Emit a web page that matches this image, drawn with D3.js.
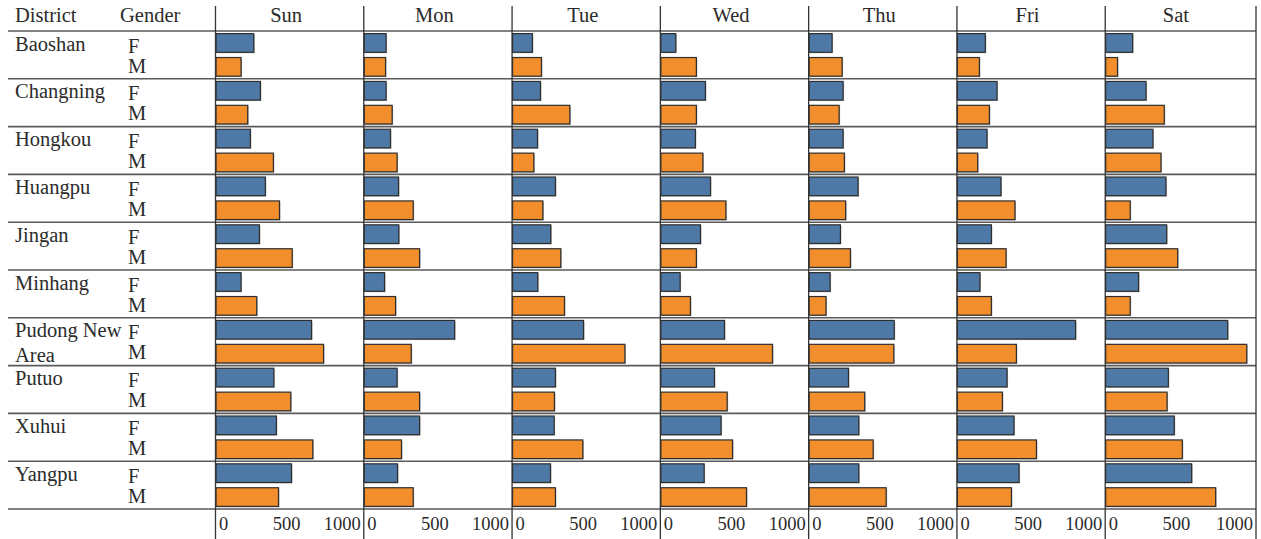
<!DOCTYPE html>
<html>
<head>
<meta charset="utf-8">
<script src="https://cdn.jsdelivr.net/npm/d3@7"></script>
<style>
  html, body { margin: 0; padding: 0; background: #fff; }
  svg { display: block; }
  text { font-family: "Liberation Serif", "DejaVu Serif", serif; fill: #2b2b2b; }
</style>
</head>
<body>
<svg id="chart" width="1261" height="539"></svg>
<script>
// Day-of-week columns, district rows, gender sub-rows
const days = ["Sun", "Mon", "Tue", "Wed", "Thu", "Fri", "Sat"];
const districts = ["Baoshan", "Changning", "Hongkou", "Huangpu", "Jingan",
                   "Minhang", "Pudong New Area", "Putuo", "Xuhui", "Yangpu"];
const genders = ["F", "M"];
const tickValues = [0, 500, 1000];

// Counts per day, one value per district (same order as `districts`)
const sunF = [271, 318, 247, 353, 311, 181, 680, 413, 431, 538];
const sunM = [181, 228, 410, 453, 543, 292, 765, 533, 689, 446];
const monF = [158, 158, 189, 246, 248, 147, 643, 236, 395, 239];
const monM = [154, 201, 236, 350, 395, 225, 336, 395, 267, 350];
const tueF = [144, 201, 180, 307, 274, 182, 506, 307, 298, 272];
const tueM = [208, 409, 154, 218, 345, 371, 799, 300, 501, 307];
const wedF = [109, 319, 248, 355, 284, 140, 454, 383, 430, 310];
const wedM = [255, 255, 301, 464, 255, 213, 794, 473, 511, 610];
const thuF = [166, 244, 244, 350, 225, 152, 606, 282, 355, 355];
const thuM = [237, 216, 253, 262, 296, 123, 603, 397, 457, 549];
const friF = [201, 284, 213, 312, 244, 163, 840, 355, 404, 440];
const friM = [159, 230, 147, 411, 348, 244, 421, 322, 563, 386];
const satF = [194, 289, 338, 430, 435, 236, 867, 447, 489, 612];
const satM = [87, 418, 395, 177, 513, 177, 1002, 438, 546, 782];

const femaleByDay = [sunF, monF, tueF, wedF, thuF, friF, satF];
const maleByDay = [sunM, monM, tueM, wedM, thuM, friM, satM];

const colors = { F: "#4e79a7", M: "#f28e2b" };

// Flatten into records
const records = [];
days.forEach((day, di) => {
  districts.forEach((district, ri) => {
    records.push({ day, district, gender: "F", value: femaleByDay[di][ri] });
    records.push({ day, district, gender: "M", value: maleByDay[di][ri] });
  });
});

const svg = d3.select("#chart");
const H = 539;
const paneLeft = 215.5, paneEnd = 1253.5, frameRight = 1256, gridTop = 31, gridBottom = 509;
const lineLeft = 8;

// Column (day pane) scale
const col = d3.scaleBand().domain(days).range([paneLeft, paneEnd]);
const bw = col.bandwidth();

// Value scale inside one pane
const x = d3.scaleLinear().domain([0, 1050]).range([0, bw]);

// Row (district) scale and gender sub-scale
const row = d3.scaleBand().domain(districts).range([gridTop, gridBottom]);
const sub = d3.scaleBand().domain(genders).range([0, row.bandwidth()]).paddingInner(0.22).paddingOuter(0.11);

const fontSize = 20.5;

// Headers
svg.append("text").attr("x", 15).attr("y", 22).attr("font-size", fontSize).text("District");
svg.append("text").attr("x", 120).attr("y", 22).attr("font-size", fontSize).text("Gender");

svg.selectAll("text.dayhead").data(days).join("text")
  .attr("class", "dayhead")
  .attr("x", d => col(d) + bw / 2 - 3.5)
  .attr("y", 22)
  .attr("text-anchor", "middle")
  .attr("font-size", fontSize)
  .text(d => d);

// District labels (long name wraps onto two lines)
const distG = svg.append("g");
districts.forEach(d => {
  const t = distG.append("text").attr("x", 15).attr("y", row(d) + 19.5).attr("font-size", fontSize);
  if (d === "Pudong New Area") {
    t.append("tspan").attr("x", 15).text("Pudong New");
    t.append("tspan").attr("x", 15).attr("dy", 25).text("Area");
  } else {
    t.text(d);
  }
});

// Gender labels
districts.forEach(d => {
  genders.forEach((g, gi) => {
    svg.append("text")
      .attr("x", 128)
      .attr("y", row(d) + 21.5 + gi * 20)
      .attr("font-size", fontSize)
      .text(g);
  });
});

// Bars with a faint offset shadow
const barG = svg.append("g");
barG.selectAll("rect.halo").data(records).join("rect")
  .attr("class", "halo")
  .attr("x", d => col(d.day) + 1)
  .attr("y", d => row(d.district) + sub(d.gender) + 1)
  .attr("width", d => x(d.value))
  .attr("height", sub.bandwidth())
  .attr("fill", "#b5b5b5");

barG.selectAll("rect.bar").data(records).join("rect")
  .attr("class", "bar")
  .attr("x", d => col(d.day) + 0.5)
  .attr("y", d => row(d.district) + sub(d.gender))
  .attr("width", d => x(d.value) - 0.5)
  .attr("height", sub.bandwidth())
  .attr("fill", d => colors[d.gender])
  .attr("stroke", "#2e2e2e")
  .attr("stroke-width", 1.2);

// Horizontal row rules
const hLines = [gridTop, ...districts.map(d => row(d) + row.bandwidth())];
svg.selectAll("line.h").data(hLines).join("line")
  .attr("class", "h")
  .attr("x1", lineLeft).attr("x2", frameRight)
  .attr("y1", d => d).attr("y2", d => d)
  .attr("stroke", "#5a5a5a").attr("stroke-width", 1.6);

// Vertical pane separators
const vLines = [...days.map(d => col(d)), frameRight];
svg.selectAll("line.v").data(vLines).join("line")
  .attr("class", "v")
  .attr("x1", d => d).attr("x2", d => d)
  .attr("y1", 6).attr("y2", H)
  .attr("stroke", "#333").attr("stroke-width", 1.3);

// Bottom value axes, one per pane
days.forEach((day, di) => {
  const paneWidth = (di === days.length - 1 ? frameRight : col(day) + bw) - col(day);
  const g = svg.append("g").attr("transform", `translate(${col(day)},${gridBottom})`);
  const axis = d3.axisBottom(x).tickValues(tickValues).tickSize(0).tickPadding(0).tickFormat(d3.format("d"));
  g.call(axis);
  g.select(".domain").remove();
  g.selectAll(".tick text")
    .attr("font-family", "Liberation Serif, serif")
    .attr("font-size", 18.5)
    .attr("fill", "#2b2b2b")
    .attr("y", 21)
    .attr("dy", 0)
    .each(function(v, i, nodes) {
      const t = d3.select(this);
      if (i === 0) {
        t.attr("text-anchor", "start").attr("x", 3);
      } else if (i === nodes.length - 1) {
        t.attr("text-anchor", "end").attr("x", paneWidth - 3.5 - x(v));
      } else {
        t.attr("text-anchor", "middle").attr("x", 0);
      }
    });
});
</script>
</body>
</html>
